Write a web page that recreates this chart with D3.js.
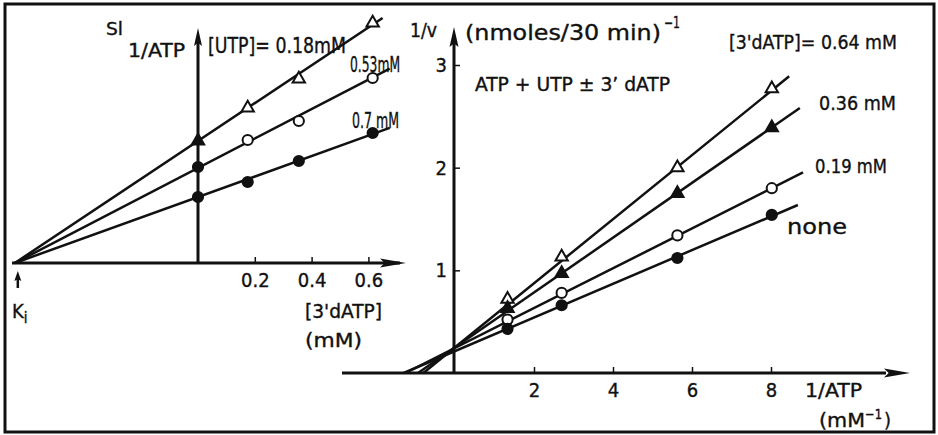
<!DOCTYPE html>
<html>
<head>
<meta charset="utf-8">
<script src="https://cdn.jsdelivr.net/npm/d3@7"></script>
<style>
  body { margin: 0; background: #fff; }
  svg { display: block; }
  text { font-family: "DejaVu Sans Condensed", "DejaVu Sans", sans-serif; fill: #111; stroke: #111; stroke-width: 0.35px; }
</style>
</head>
<body>
<svg width="938" height="435"></svg>
<script>
// left panel: slope (1/ATP) against [3'dATP], one line per [UTP]
var dATP = [0, 0.175, 0.355, 0.615];
var utpLabels = ["[UTP]= 0.18mM", "0.53mM", "0.7 mM"];
var slopeUtp018 = [1.22, 1.55, 1.84, 2.4];
var slopeUtp053 = [0.96, 1.23, 1.42, 1.85];
var slopeUtp07 = [0.66, 0.81, 1.02, 1.3];
var slopeIntercepts = [1.22, 0.95, 0.66];
var slopeLineEnds = [0.65, 0.675, 0.675];
var Ki = 0.645;
var leftTicks = [0.2, 0.4, 0.6];

// right panel: 1/v against 1/ATP, one line per [3'dATP]
var invATP = [1.33, 2.7, 5.63, 8.02];
var dATPLabels = ["[3'dATP]= 0.64 mM", "0.36 mM", "0.19 mM", "none"];
var rateD064 = [0.72, 1.13, 2.0, 2.77];
var rateD036 = [0.63, 0.97, 1.75, 2.39];
var rateD019 = [0.52, 0.78, 1.34, 1.8];
var rateNone = [0.43, 0.66, 1.12, 1.54];
var rateIntercepts = [0.25, 0.25, 0.244, 0.213];
var rateSlopes = [0.312, 0.267, 0.194, 0.164];
var rateLineEnds = [8.46, 8.73, 8.81, 8.68];
var rightXTicks = [2, 4, 6, 8];
var rightYTicks = [1, 2, 3];

var svg = d3.select("svg");
var ink = "#111";
var fontStack = '"DejaVu Sans Condensed", "DejaVu Sans", sans-serif';

svg.append("rect")
  .attr("x", 5).attr("y", 4).attr("width", 929).attr("height", 428)
  .attr("fill", "none").attr("stroke", ink).attr("stroke-width", 3);

var xL = d3.scaleLinear().domain([0, 0.6]).range([198, 368.4]);
var yL = d3.scaleLinear().domain([0, 2.4]).range([263, 23]);
var xR = d3.scaleLinear().domain([0, 8]).range([455, 771]);
var yR = d3.scaleLinear().domain([0, 3]).range([373, 65]);

var line = d3.line();

// arrow head pointing along angle (deg), tip at x,y
function arrowHead(x, y, angle, len, half) {
  var p = d3.path();
  p.moveTo(0, 0);
  p.lineTo(-len, -half);
  p.lineTo(-len * 0.82, 0);
  p.lineTo(-len, half);
  p.closePath();
  svg.append("path")
    .attr("d", p.toString())
    .attr("transform", "translate(" + x + "," + y + ") rotate(" + angle + ")")
    .attr("fill", ink);
}

function axisLine(x1, y1, x2, y2) {
  svg.append("line")
    .attr("x1", x1).attr("y1", y1).attr("x2", x2).attr("y2", y2)
    .attr("stroke", ink).attr("stroke-width", 3);
}

function marker(x, y, shape, filled) {
  var sym = d3.symbol()
    .type(shape == "tri" ? d3.symbolTriangle : d3.symbolCircle)
    .size(shape == "tri" ? 66 : 82);
  svg.append("path")
    .attr("d", sym())
    .attr("transform", "translate(" + x + "," + y + ")")
    .attr("fill", filled ? ink : "#fff")
    .attr("stroke", ink)
    .attr("stroke-width", 2);
}

function label(txt, x, y, size, width, anchor) {
  var t = svg.append("text")
    .attr("x", x).attr("y", y)
    .attr("font-size", size)
    .attr("text-anchor", anchor || "start")
    .text(txt);
  if (width) t.attr("textLength", width).attr("lengthAdjust", "spacingAndGlyphs");
  return t;
}

function styleAxis(g) {
  g.select(".domain").remove();
  g.selectAll("line").attr("stroke", ink).attr("stroke-width", 1.5);
  g.selectAll("text").attr("font-size", 20).attr("font-family", fontStack).attr("fill", ink);
}

// ---------- left panel ----------
axisLine(12, yL(0), 400, yL(0));
arrowHead(406, yL(0), 0, 26, 4.5);
axisLine(xL(0), yL(0), xL(0), 40);
arrowHead(xL(0), 28, -90, 18, 4);

var leftAxis = svg.append("g")
  .attr("transform", "translate(0," + yL(0) + ")")
  .call(d3.axisBottom(xL).tickValues(leftTicks).tickSizeInner(-6).tickSizeOuter(0)
    .tickPadding(10).tickFormat(d3.format(".1f")));
styleAxis(leftAxis);

var leftSeries = [slopeUtp018, slopeUtp053, slopeUtp07];
var leftShapes = ["tri", "circ", "circ"];
leftSeries.forEach(function (vals, i) {
  var b = slopeIntercepts[i];
  var xe = slopeLineEnds[i];
  svg.append("path")
    .attr("d", line([[xL(-Ki), yL(0)], [xL(xe), yL(b * (1 + xe / Ki))]]))
    .attr("stroke", ink).attr("stroke-width", 2.5).attr("fill", "none");
  vals.forEach(function (v, j) {
    var filled = j == 0 || i == 2;
    marker(xL(dATP[j]), yL(v), leftShapes[i], filled);
  });
});

// Ki arrow
svg.append("line")
  .attr("x1", xL(-Ki) + 3).attr("x2", xL(-Ki) + 3).attr("y1", 288).attr("y2", 278)
  .attr("stroke", ink).attr("stroke-width", 2.5);
arrowHead(xL(-Ki) + 3, 271, -90, 10, 3.5);
var ki = label("K", 12, 318, 20);
ki.append("tspan").attr("dy", 5).attr("font-size", 15).text("i");

label("Sl", 106, 35, 17, 17);
label("1/ATP", 128, 57, 19, 57);
label(utpLabels[0], 208, 53, 21, 138);
label(utpLabels[1], 350, 72, 22, 50);
label(utpLabels[2], 352, 128, 22, 47);
label("[3'dATP]", 305, 318, 20, 77);
label("(mM)", 305, 347, 20, 57);

// ---------- right panel ----------
axisLine(342, yR(0), 886, yR(0));
arrowHead(910, yR(0), 0, 26, 4.5);
axisLine(xR(0) - 1, yR(0), xR(0) - 1, 42);
arrowHead(xR(0) - 1, 27, -90, 20, 4.5);

var rxAxis = svg.append("g")
  .attr("transform", "translate(0," + yR(0) + ")")
  .call(d3.axisBottom(xR).tickValues(rightXTicks).tickSizeInner(-6).tickSizeOuter(0)
    .tickPadding(10).tickFormat(d3.format("d")));
styleAxis(rxAxis);
var ryAxis = svg.append("g")
  .attr("transform", "translate(" + (xR(0) - 1) + ",0)")
  .call(d3.axisLeft(yR).tickValues(rightYTicks).tickSizeInner(-6).tickSizeOuter(0)
    .tickPadding(7).tickFormat(d3.format("d")));
styleAxis(ryAxis);

var rightSeries = [rateD064, rateD036, rateD019, rateNone];
var rightShapes = ["tri", "tri", "circ", "circ"];
var rightFilled = [false, true, false, true];
rightSeries.forEach(function (vals, i) {
  var b = rateIntercepts[i], m = rateSlopes[i], xe = rateLineEnds[i];
  svg.append("path")
    .attr("d", line([[xR(-b / m), yR(0)], [xR(xe), yR(b + m * xe)]]))
    .attr("stroke", ink).attr("stroke-width", 2.5).attr("fill", "none");
  vals.forEach(function (v, j) {
    marker(xR(invATP[j]), yR(v), rightShapes[i], rightFilled[i]);
  });
});

label("1/v", 410, 37, 19, 27);
label("(nmoles/30 min)", 465, 40, 22, 196);
label("\u22121", 664, 28, 15, 16);
label("ATP + UTP  \u00b1 3\u2019 dATP", 475, 91, 19, 195);
label(dATPLabels[0], 729, 49, 20, 168);
label(dATPLabels[1], 819, 110, 20, 77);
label(dATPLabels[2], 815, 173, 20, 72);
label(dATPLabels[3], 787, 234, 22, 60);
label("1/ATP", 805, 397, 19, 57);
label("(mM", 819, 427, 20, 46);
label("\u22121", 865, 419, 14, 17);
label(")", 884, 427, 20);
</script>
</body>
</html>
